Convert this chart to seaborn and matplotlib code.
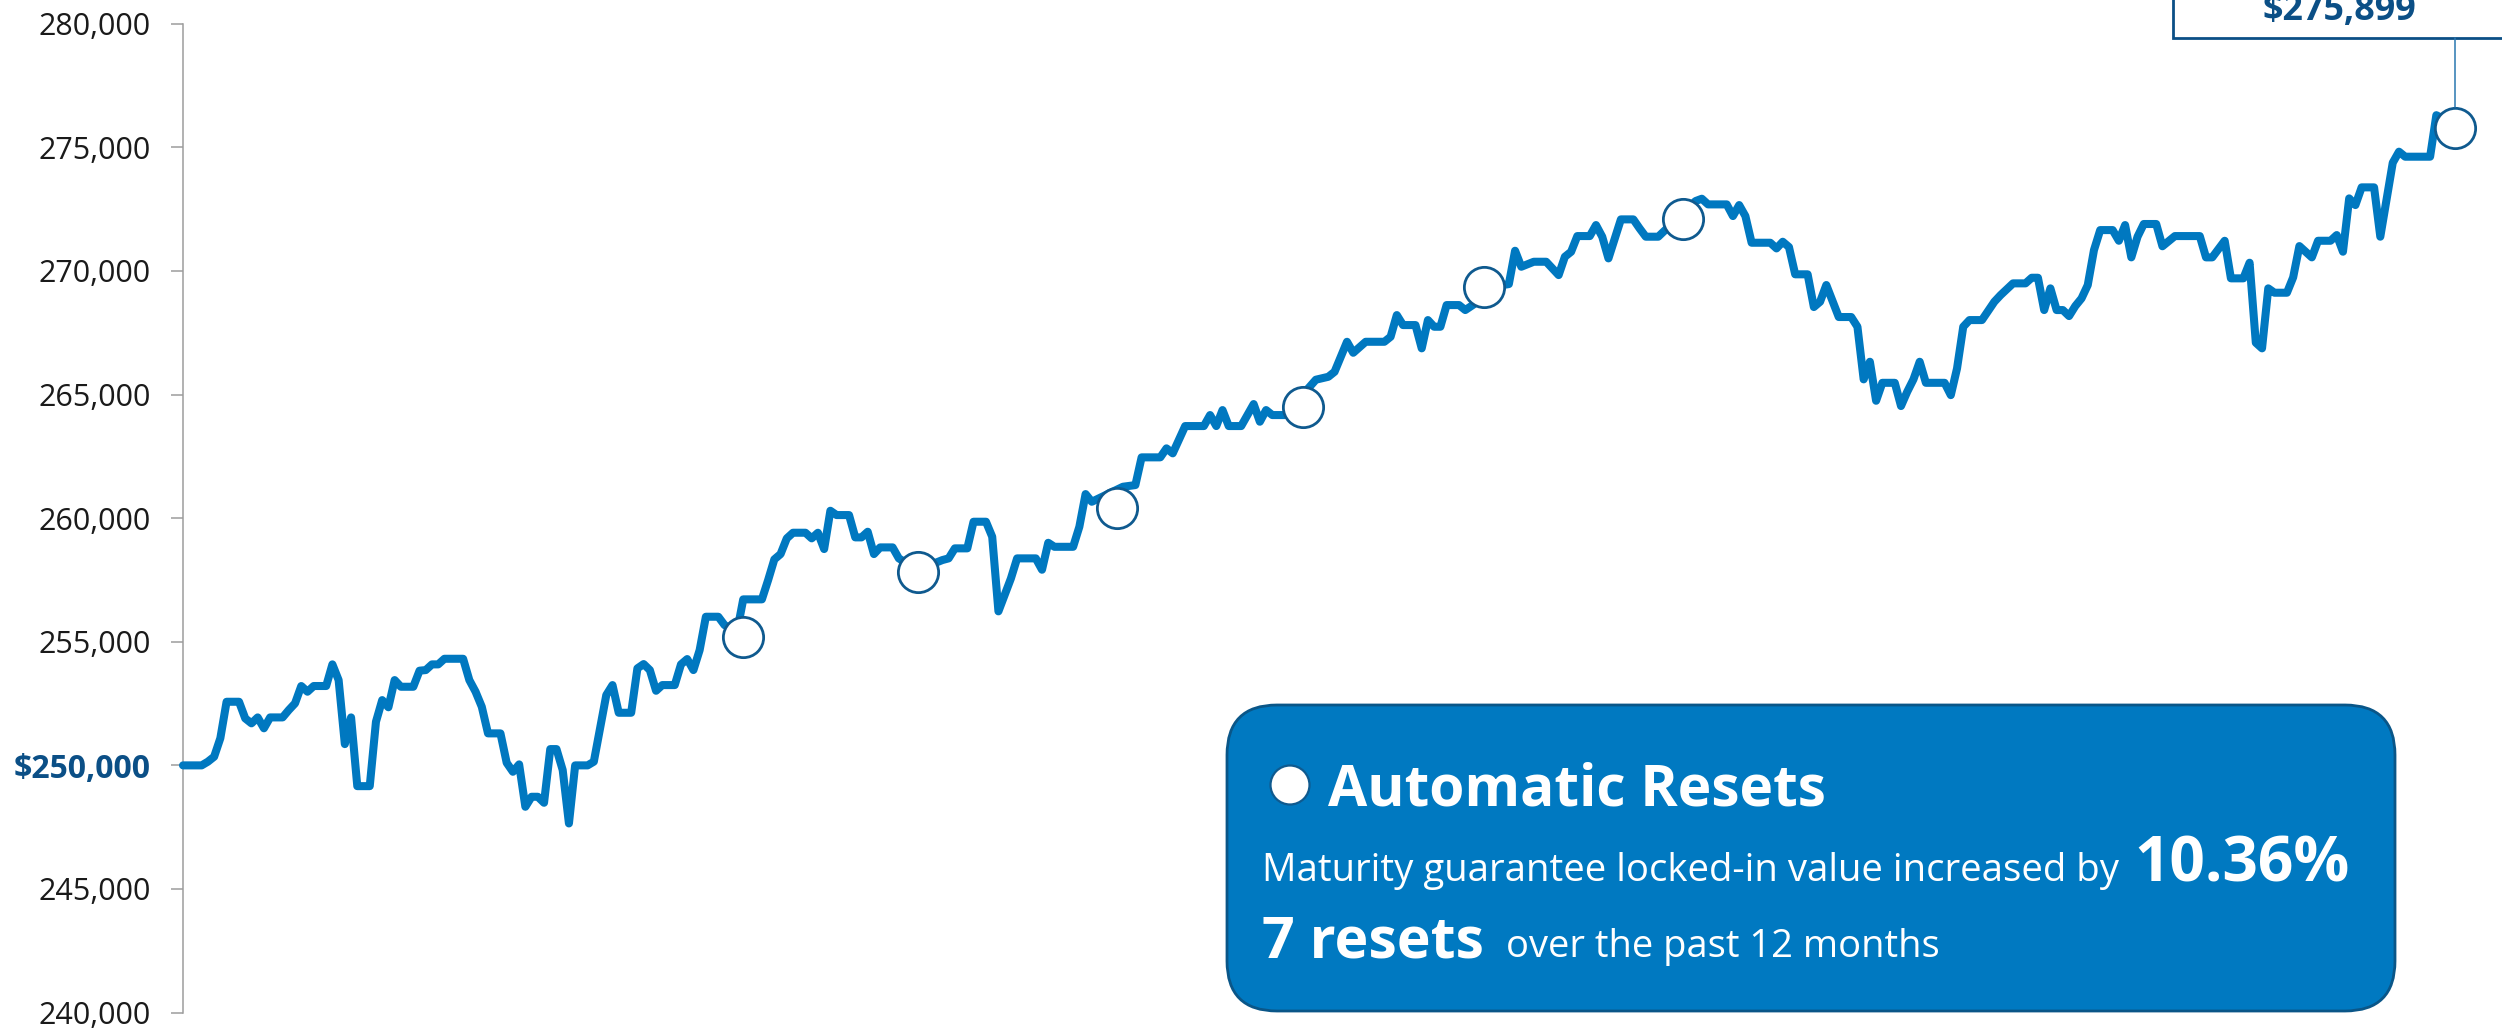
import matplotlib
matplotlib.use("Agg")
import matplotlib.pyplot as plt
import seaborn as sns
import pandas as pd
from matplotlib.patches import FancyBboxPatch, Rectangle, Circle
from matplotlib.transforms import IdentityTransform
from matplotlib.lines import Line2D

# ---------------- data ----------------
days = [0, 3, 4, 5, 6, 7, 9, 10, 11, 12, 13, 14, 16, 17, 18, 19, 20, 21, 23, 24,
        25, 26, 27, 28, 30, 31, 32, 33, 34, 35, 37, 38, 39, 40, 41, 42, 45, 46, 47, 48,
        49, 51, 52, 53, 54, 55, 56, 57, 58, 59, 60, 61, 62, 63, 65, 66, 67, 68, 69, 70,
        72, 73, 74, 75, 76, 77, 79, 80, 81, 82, 83, 84, 86, 87, 89, 90, 93, 94, 95, 96,
        97, 98, 100, 101, 102, 103, 104, 105, 107, 108, 109, 110, 111, 112, 114, 115, 118, 122, 123, 124,
        126, 127, 129, 130, 131, 133, 134, 137, 138, 139, 140, 143, 144, 145, 146, 151, 153, 154, 157, 158,
        159, 161, 164, 165, 166, 167, 168, 170, 172, 173, 174, 175, 177, 182, 184, 185, 187, 188, 190, 193,
        194, 195, 196, 198, 199, 200, 201, 202, 203, 205, 206, 212, 213, 214, 215, 217, 219, 221, 222, 223,
        224, 226, 227, 228, 229, 231, 233, 234, 235, 237, 243, 244, 245, 248, 249, 250, 251, 252, 255, 256,
        257, 258, 259, 261, 262, 263, 264, 266, 268, 269, 270, 271, 272, 273, 275, 276, 277, 278, 279, 280,
        283, 284, 285, 286, 287, 289, 291, 292, 294, 296, 297, 298, 299, 300, 301, 302, 303, 304, 305, 306,
        307, 308, 310, 311, 312, 313, 314, 315, 317, 318, 320, 324, 325, 326, 328, 329, 331, 332, 333, 334,
        335, 336, 338, 339, 340, 342, 343, 345, 346, 347, 348, 349, 350, 352, 353, 355, 356, 357, 361, 362,
        365]
values = [250000, 250000, 250150, 250350, 251100, 252573, 252573, 251900, 251700, 251940,
          251500, 251940, 251940, 252240, 252510, 253210, 252980, 253210, 253210, 254085,
          253450, 250860, 251940, 249160, 249160, 251765, 252640, 252350, 253450, 253180,
          253180, 253830, 253855, 254085, 254085, 254312, 254312, 253450, 252980, 252370,
          251294, 251294, 250105, 249741, 250040, 248325, 248730, 248730, 248487, 250659,
          250659, 249810, 247650, 250000, 250000, 250150, 251500, 252843, 253248, 252128,
          252128, 253924, 254098, 253855, 253018, 253248, 253248, 254085, 254300, 253855,
          254664, 256012, 256012, 255675, 255400, 256715, 256715, 257495, 258333, 258547,
          259182, 259410, 259410, 259182, 259410, 258750, 260299, 260125, 260125, 259222,
          259222, 259450, 258547, 258817, 258817, 258373, 257900, 258305, 258373, 258778,
          258778, 259855, 259855, 259248, 256230, 257557, 258373, 258373, 257913, 259004,
          258841, 258841, 259652, 260974, 260663, 261270, 261338, 262459, 262459, 262823,
          262621, 263725, 263725, 264170, 263725, 264372, 263725, 263725, 264615, 263900,
          264372, 264170, 264170, 265600, 265718, 265920, 267134, 266689, 267134, 267134,
          267336, 268214, 267810, 267810, 266868, 268012, 267742, 267742, 268619, 268619,
          268417, 269428, 269468, 270816, 270169, 270371, 270371, 269832, 270573, 270775,
          271410, 271410, 271855, 271384, 270507, 272085, 272085, 271721, 271384, 271384,
          272826, 272920, 272691, 272691, 272219, 272664, 272219, 271140, 271140, 270911,
          271180, 270966, 269863, 269863, 268539, 268754, 269430, 268135, 268135, 267742,
          265614, 266326, 264748, 265474, 265474, 264535, 265113, 265614, 266326, 265474,
          265474, 264975, 266055, 267742, 268012, 268012, 268754, 269023, 269497, 269497,
          269724, 269724, 268417, 269295, 268417, 268417, 268174, 268579, 268889, 269427,
          270843, 271652, 271652, 271220, 271855, 270548, 271384, 271898, 271898, 270998,
          271410, 271410, 270548, 270548, 271220, 269700, 269700, 270332, 267096, 266868,
          269295, 269118, 269118, 269740, 271005, 270548, 271220, 271220, 271451, 270777,
          272934, 272664, 273380, 273380, 271384, 274376, 274823, 274620, 274620, 276300,
          275899]

reset_days = [90, 118, 150, 180, 209, 241, 365]
reset_values = [255178, 257831, 260396, 264506, 269360, 272085, 275769]

ytick_values = [240000, 245000, 250000, 255000, 260000, 265000, 270000, 275000, 280000]
ytick_labels = ["240,000", "245,000", "$250,000", "255,000", "260,000",
                "265,000", "270,000", "275,000", "280,000"]
highlight_tick = "$250,000"
final_label = "$275,899"
box_title = "Automatic Resets"
box_line1 = "Maturity guarantee locked-in value increased by"
box_pct = "10.36%"
box_count = "7 resets"
box_line2 = "over the past 12 months"

# ---------------- style ----------------
W, H, DPI = 2502, 1031, 100
LINE = "#0078C0"
DARK = "#0F5A8F"
LABEL_DARK = "#0B4F86"
GREY = "#9C9C9C"

sns.set_style("white")
plt.rcParams["font.family"] = ["Open Sans", "DejaVu Sans"]

fig = plt.figure(figsize=(W / DPI, H / DPI), dpi=DPI, facecolor="white")
ax = fig.add_axes([183 / W, 1 - 1012.6 / H, (2455 - 183) / W, (1012.6 - 23.7) / H])
ax.set_facecolor("white")

df = pd.DataFrame({"day": days, "value": values})
sns.lineplot(data=df, x="day", y="value", ax=ax, color=LINE, linewidth=5.8,
             estimator=None, sort=False, zorder=3)
for ln in ax.lines:
    ln.set_solid_joinstyle("round")
    ln.set_solid_capstyle("round")
    ln.set_clip_on(False)

rdf = pd.DataFrame({"day": reset_days, "value": reset_values})
sns.scatterplot(data=rdf, x="day", y="value", ax=ax, s=29 ** 2, color="white",
                edgecolor=DARK, linewidth=2, zorder=5, clip_on=False, legend=False)

ax.set_xlim(0, 365)
ax.set_ylim(240000, 280000)
ax.set_xticks([])
ax.set_yticks(ytick_values)
ax.set_yticklabels(ytick_labels)
ax.set_xlabel("")
ax.set_ylabel("")
for s in ["top", "right", "bottom"]:
    ax.spines[s].set_visible(False)
ax.spines["left"].set_color(GREY)
ax.spines["left"].set_linewidth(1.1)
ax.tick_params(axis="y", left=True, length=8.6, width=1.1, color=GREY, pad=14.4,
               labelsize=22, labelcolor="#1a1a1a")
for lab in ax.get_yticklabels():
    if lab.get_text() == highlight_tick:
        lab.set_fontweight("bold")
        lab.set_fontsize(23)
        lab.set_color(LABEL_DARK)

# ---------------- annotations (pixel layout) ----------------
ID = IdentityTransform()
renderer = fig.canvas.get_renderer()


def fit_text(x, y, s, width, ha="left", **kw):
    t = fig.text(x, H - y, s, transform=ID, ha=ha, va="baseline", fontsize=20, **kw)
    w = t.get_window_extent(renderer).width
    t.set_fontsize(20 * width / w)
    return t


# top-right value box
fig.add_artist(Rectangle((2173, H - 38.3), 420, 120, transform=ID, facecolor="white",
                         edgecolor=LABEL_DARK, linewidth=2, zorder=6))
fit_text(2339, 20, final_label, 154, ha="center", fontweight="bold", color=LABEL_DARK, zorder=7)
px, py = ax.transData.transform((reset_days[-1], reset_values[-1]))
fig.add_artist(Line2D([px, px], [H - 38.3, py + 21], transform=ID, color="#2A78B0",
                      linewidth=1.1, zorder=6))

# bottom-right info box
fig.add_artist(FancyBboxPatch((1227, H - 1011), 1168, 306,
                              boxstyle="round,pad=0,rounding_size=50", transform=ID,
                              facecolor="#0079C1", edgecolor="#0A5688", linewidth=2, zorder=6))
fig.add_artist(Circle((1290, H - 785), 19.5, transform=ID, facecolor="white",
                      edgecolor=DARK, linewidth=1.6, zorder=7))
fit_text(1328, 805, box_title, 498, fontweight="bold", color="white", zorder=7)
fit_text(1262, 881, box_line1, 856, color="white", zorder=7)
fit_text(2134, 881, box_pct, 216, fontweight="bold", color="white", zorder=7)
fit_text(1262, 957, box_count, 222, fontweight="bold", color="white", zorder=7)
fit_text(1506, 957, box_line2, 433, color="white", zorder=7)

fig.savefig("out.png", dpi=DPI, facecolor="white")
